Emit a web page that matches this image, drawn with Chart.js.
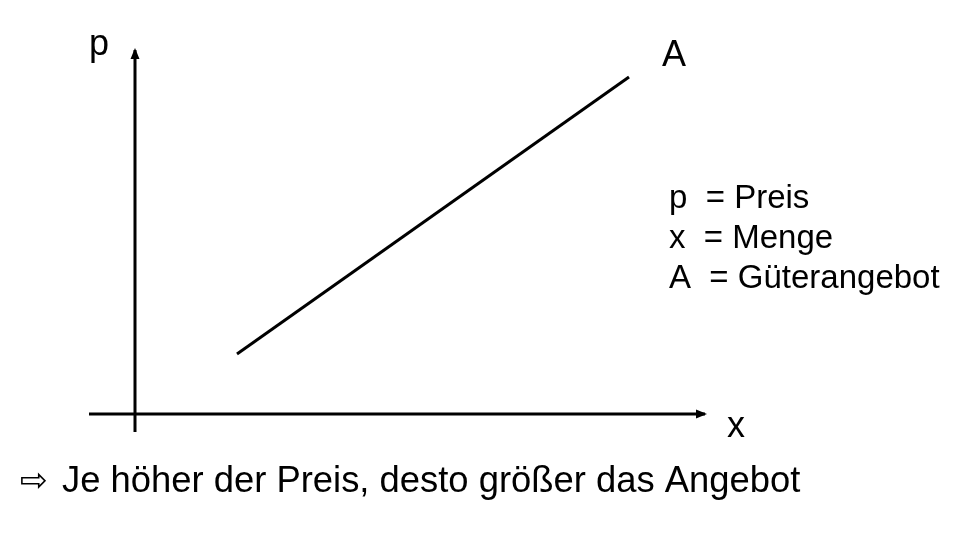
<!DOCTYPE html>
<html>
<head>
<meta charset="utf-8">
<script src="https://cdn.jsdelivr.net/npm/chart.js@4/dist/chart.umd.min.js"></script>
<style>
  html, body { margin: 0; padding: 0; background: #fff; }
  #wrap { width: 967px; height: 541px; position: relative; }
</style>
</head>
<body>
<div id="wrap"><canvas id="c"></canvas></div>
<script>
// ---- data (conceptual units) ----
const quantityAxis = [-4.6, 57.0];   // x-axis (Menge) extent, at p = 0
const priceAxis = [-1.8, 36.4];      // p-axis (Preis) extent, at x = 0
const supplyX = [10.2, 49.4];        // Güterangebot A: quantities
const supplyP = [6.0, 33.7];         // Güterangebot A: prices
const axisLabels = ['p', 'x'];
const curveLabel = 'A';
const legendLines = ['p  = Preis', 'x  = Menge', 'A  = Güterangebot'];
const conclusion = 'Je höher der Preis, desto größer das Angebot';

const FONT = '"Liberation Sans", Arial, sans-serif';

const annotate = {
  id: 'annotate',
  afterDatasetsDraw(chart) {
    const ctx = chart.ctx;
    const xs = chart.scales.x, ys = chart.scales.y;
    const X = v => xs.getPixelForValue(v), Y = v => ys.getPixelForValue(v);
    ctx.save();
    ctx.fillStyle = '#000';
    // y axis arrowhead
    let tx = X(0), ty = Y(priceAxis[1]);
    ctx.beginPath();
    ctx.moveTo(tx, ty - 2);
    ctx.lineTo(tx - 4.5, ty + 9);
    ctx.lineTo(tx + 4.5, ty + 9);
    ctx.closePath();
    ctx.fill();
    // x axis arrowhead
    tx = X(quantityAxis[1]); ty = Y(0);
    ctx.beginPath();
    ctx.moveTo(tx + 2, ty);
    ctx.lineTo(tx - 9, ty - 4.5);
    ctx.lineTo(tx - 9, ty + 4.5);
    ctx.closePath();
    ctx.fill();

    ctx.textBaseline = 'alphabetic';
    ctx.textAlign = 'left';
    ctx.font = '36px ' + FONT;
    ctx.fillText(axisLabels[0], X(0) - 46, Y(priceAxis[1]) + 5);
    ctx.fillText(axisLabels[1], X(quantityAxis[1]) + 22, Y(0) + 23);
    ctx.fillText(curveLabel, X(supplyX[1]) + 33, Y(supplyP[1]) - 11);
    // legend
    ctx.font = '33px ' + FONT;
    const lx = X(supplyX[1]) + 40;
    [208, 248, 288].forEach((yy, i) => ctx.fillText(legendLines[i], lx, yy));
    // conclusion
    ctx.font = '33px "DejaVu Sans", sans-serif';
    ctx.fillText('\u21E8', 20, 491);
    ctx.font = '36.4px ' + FONT;
    ctx.fillText(conclusion, 62, 492);
    ctx.restore();
  }
};

const lineStyle = { borderColor: '#000', borderWidth: 3, pointRadius: 0, showLine: true, fill: false };

new Chart(document.getElementById('c'), {
  type: 'scatter',
  data: {
    datasets: [
      Object.assign({ label: 'x-Achse', data: quantityAxis.map(v => ({ x: v, y: 0 })) }, lineStyle),
      Object.assign({ label: 'p-Achse', data: priceAxis.map(v => ({ x: 0, y: v })) }, lineStyle),
      Object.assign({ label: 'A', data: supplyX.map((v, i) => ({ x: v, y: supplyP[i] })) }, lineStyle)
    ]
  },
  options: {
    responsive: true,
    maintainAspectRatio: false,
    animation: false,
    layout: { padding: 0 },
    plugins: { legend: { display: false }, tooltip: { enabled: false } },
    scales: {
      x: { type: 'linear', min: -13.5, max: 83.2, display: false },
      y: { type: 'linear', min: -12.7, max: 41.4, display: false }
    }
  },
  plugins: [annotate]
});
</script>
</body>
</html>
